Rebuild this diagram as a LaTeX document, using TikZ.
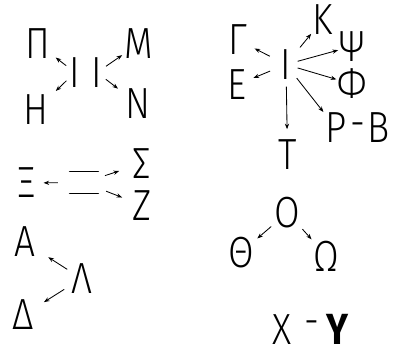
\documentclass[tikz,border=0pt]{standalone}
\usepackage{fontspec}
\newfontfamily\hand{Fira Sans}[UprightFont=* Light, BoldFont=* Bold, FakeStretch=0.85]
\usetikzlibrary{arrows.meta}

\begin{document}
\begin{tikzpicture}[
  x=0.025cm, y=-0.025cm,
  letter/.style={inner sep=0pt, text depth=0pt, font=\hand\fontsize{31}{34}\selectfont},
  arr/.style={-{Stealth[length=4pt, width=3pt]}, line width=0.6pt},
  bar/.style={line width=1.1pt, line cap=round}
]
\useasboundingbox (0,0) rectangle (397,355);

% I group
\node[letter] (Pi)    at (37.5,43.5) {Π};
\node[letter] (Eta)   at (36,110)    {Η};
\node[letter] (Iota1) at (75,72.5)   {Ι};
\node[letter] (Iota2) at (97,72.5)   {Ι};
\node[letter] (Mu)    at (139,43.5)  {Μ};
\node[letter] (Nu)    at (138,104)   {Ν};

% second I group
\node[letter] (Gamma)   at (238,40)     {Γ};
\node[letter] (Epsilon) at (236.5,85)   {Ε};
\node[letter] (Iota3)   at (286,64.5)   {Ι};
\node[letter] (Kappa)   at (322.5,20)   {Κ};
\node[letter] (Psi)     at (351.5,46.5) {Ψ};
\node[letter] (Phi)     at (352,84)     {Φ};
\node[letter] (Rho)     at (336,128)    {Ρ};
\node[letter] (rbdash)  at (358,130)    {-};
\node[letter] (Beta)    at (379,128)    {Β};
\node[letter] (Tau)     at (287.5,155)  {Τ};

% double bar group
\node[letter] (Xi)    at (27,183)    {Ξ};
\node[minimum width=28*0.025cm, minimum height=21*0.025cm, inner sep=0pt] (bars) at (84,182.5) {};
\draw[bar] (bars.north west) -- (bars.north east);
\draw[bar] (bars.south west) -- (bars.south east);
\node[letter] (Sigma) at (142,163.5) {Σ};
\node[letter] (Zeta)  at (142.5,205.5) {Ζ};

% L group
\node[letter] (Alpha)  at (24.5,242)  {Α};
\node[letter] (Lambda) at (81.5,278.5) {Λ};
\node[letter] (Delta)  at (23.5,315)  {Δ};

% O group
\node[letter] (Omicron) at (287.5,212.5) {Ο};
\node[letter] (Theta)   at (241,252.5) {Θ};
\node[letter] (Omega)   at (326.5,256) {Ω};

% X - Y
\node[letter] (Chi)     at (282,330)   {Χ};
\node[letter] (cudash)  at (312,328)   {-};
\node[letter] (Upsilon) at (338,329.5) {\bfseries Υ};

\draw[arr, shorten <=3pt, shorten >=5pt] (Iota1) -- (Pi);
\draw[arr, shorten <=3pt, shorten >=7pt] (Iota1) -- (Eta);
\draw[arr, shorten <=3pt, shorten >=2pt] (Iota2) -- (Mu);
\draw[arr, shorten <=3pt, shorten >=6.5pt] (Iota2) -- (Nu);

\draw[arr, shorten <=8.5pt, shorten >=5.5pt] (Iota3) -- (Gamma);
\draw[arr, shorten <=8pt, shorten >=5.5pt] (Iota3) -- (Epsilon);
\draw[arr, shorten <=9.5pt, shorten >=1pt] (Iota3) -- (Kappa);
\draw[arr, shorten <=4.5pt, shorten >=0.5pt] (Iota3) -- (Psi);
\draw[arr, shorten <=4.5pt, shorten >=0.5pt] (Iota3) -- (Phi);
\draw[arr, shorten <=6pt, shorten >=2pt] (Iota3) -- (Rho);
\draw[arr, shorten <=5pt, shorten >=7.5pt] (Iota3) -- (Tau);

\draw[arr, shorten <=8.5pt, shorten >=5pt] (bars) -- (Xi);
\draw[arr, shorten <=5pt, shorten >=10pt] (bars) -- (Sigma);
\draw[arr, shorten <=6pt, shorten >=8pt] (bars) -- (Zeta);

\draw[arr, shorten <=3pt, shorten >=11pt] (Lambda) -- (Alpha);
\draw[arr, shorten <=5.5pt, shorten >=8pt] (Lambda) -- (Delta);

\draw[arr, shorten <=3pt, shorten >=3pt] (Omicron) -- (Theta);
\draw[arr, shorten <=2pt, shorten >=2pt] (Omicron) -- (Omega);

\end{tikzpicture}
\end{document}
